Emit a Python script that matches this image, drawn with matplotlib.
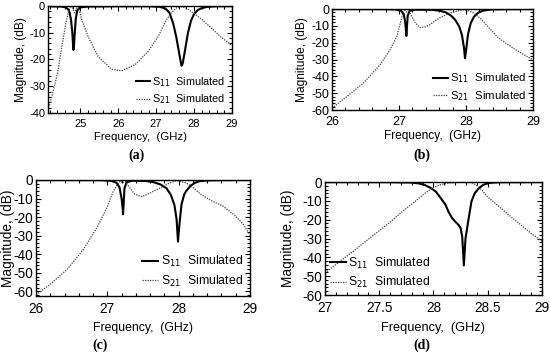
# S11 / S21 simulated responses of four filter designs, panels (a)-(d).
import matplotlib.pyplot as plt
from matplotlib.ticker import AutoMinorLocator, MultipleLocator

plt.rcParams['font.family'] = ['Liberation Sans', 'DejaVu Sans']
plt.rcParams['axes.unicode_minus'] = False

# ---- panel (a) ----
a_f11 = [24.15, 24.5, 24.62, 24.68, 24.72, 24.76, 24.79, 24.81, 24.82, 24.835,
         24.85, 24.88, 24.92, 25.0, 25.2, 26.0, 26.8, 27.1, 27.25, 27.35, 27.45,
         27.53, 27.6, 27.65, 27.67, 27.7, 27.75, 27.84, 27.92, 28.0, 28.1,
         28.2, 28.35, 28.6, 29.0]
a_s11 = [-0.1, -0.2, -0.5, -1.2, -2.5, -5.5, -10.0, -14.5, -16.4, -15.0,
         -11.0, -5.0, -1.6, -0.5, -0.2, -0.1, -0.1, -0.3, -1.0, -2.5, -6.5,
         -11.5, -17.0, -21.0, -22.3, -21.5, -17.5, -10.0, -5.5, -3.0, -1.5,
         -0.8, -0.3, -0.1, -0.05]
a_f21 = [24.15, 24.25, 24.4, 24.53, 24.62, 24.7, 24.76, 24.8, 24.85, 24.9,
         24.95, 25.04, 25.21, 25.47, 25.83, 26.09, 26.44, 26.79, 27.05, 27.27,
         27.4, 27.55, 27.68, 27.8, 28.0, 28.2, 28.46, 28.7, 28.98, 29.0]
a_s21 = [-38.9, -33.9, -25.2, -13.9, -6.5, -1.5, -0.3, -0.8, -2.5, -0.8,
         -0.4, -5.2, -11.5, -18.9, -23.7, -24.2, -22.0, -17.0, -11.5, -5.2,
         -2.5, -0.6, -0.3, -0.8, -2.8, -5.0, -8.3, -11.5, -14.6, -14.7]

# ---- panel (b) ----
b_f11 = [26.0, 26.8, 26.95, 27.03, 27.07, 27.09, 27.105, 27.11, 27.115, 27.13,
         27.16, 27.25, 27.5, 27.6, 27.7, 27.78, 27.84, 27.9, 27.94, 27.97,
         27.985, 28.0, 28.03, 28.07, 28.12, 28.18, 28.25, 28.35, 28.5, 29.0]
b_s11 = [-0.05, -0.1, -0.3, -1.0, -3.0, -7.0, -13.0, -16.0, -13.0, -4.0,
         -1.0, -0.4, -0.5, -1.0, -2.0, -4.0, -6.5, -10.5, -15.5, -23.0,
         -29.2, -25.0, -15.0, -8.5, -4.5, -2.3, -1.0, -0.4, -0.15, -0.05]
b_f21 = [26.0, 26.22, 26.47, 26.72, 26.87, 26.97, 27.02, 27.06, 27.09, 27.11,
         27.14, 27.18, 27.24, 27.31, 27.38, 27.46, 27.6, 27.75, 27.9, 27.985,
         28.1, 28.21, 28.33, 28.46, 28.6, 28.71, 28.85, 29.0]
b_s21 = [-59.0, -52.0, -44.0, -33.0, -24.0, -16.0, -8.3, -2.4, -0.8, -1.8,
         -1.2, -3.5, -8.0, -11.0, -10.8, -9.3, -5.4, -2.5, -0.9, -0.4,
         -2.0, -5.4, -10.5, -16.3, -20.5, -23.3, -26.8, -30.2]

# ---- panel (c) ----
c_f11 = [26.0, 26.9, 27.05, 27.13, 27.17, 27.2, 27.215, 27.22, 27.225, 27.24,
         27.27, 27.35, 27.55, 27.65, 27.75, 27.83, 27.89, 27.94, 27.97, 27.99,
         28.01, 28.04, 28.08, 28.11, 28.17, 28.23, 28.3, 28.4, 28.6, 29.0]
c_s11 = [-0.05, -0.1, -0.4, -1.5, -4.0, -10.0, -15.5, -18.5, -15.0, -4.5,
         -1.2, -0.4, -0.6, -1.2, -2.5, -4.5, -8.0, -13.5, -21.0, -33.2,
         -24.0, -13.0, -7.5, -5.7, -3.0, -1.5, -0.6, -0.25, -0.1, -0.05]
c_f21 = [26.0, 26.19, 26.43, 26.66, 26.85, 26.99, 27.08, 27.15, 27.18, 27.21,
         27.25, 27.3, 27.38, 27.48, 27.59, 27.73, 27.85, 27.97, 28.1, 28.2,
         28.3, 28.45, 28.63, 28.8, 28.91, 29.0]
c_s21 = [-61.8, -56.5, -48.4, -37.6, -26.0, -15.2, -6.3, -1.8, -0.5, -1.6,
         -0.8, -3.5, -7.5, -9.0, -7.2, -4.5, -2.0, -0.3, -1.5, -4.0,
         -7.5, -11.0, -14.3, -19.5, -24.2, -29.6]

# ---- panel (d) ----
d_f11 = [27.0, 27.6, 27.8, 27.86, 27.92, 27.97, 28.02, 28.06, 28.11, 28.14,
         28.17, 28.2, 28.23, 28.25, 28.265, 28.28, 28.295, 28.32, 28.35, 28.38,
         28.42, 28.46, 28.51, 28.6, 29.0]
d_s11 = [-0.05, -0.1, -0.3, -0.7, -1.6, -3.0, -5.0, -8.0, -12.0, -16.0,
         -19.0, -21.0, -22.7, -24.5, -29.0, -44.3, -30.0, -20.9, -10.3, -6.0,
         -3.2, -1.5, -0.5, -0.15, -0.05]
d_f21 = [27.0, 27.14, 27.28, 27.44, 27.59, 27.71, 27.83, 27.92, 27.99, 28.06,
         28.14, 28.25, 28.35, 28.39, 28.45, 28.5, 28.6, 28.69, 28.8, 28.9, 29.0]
d_s21 = [-48.3, -42.0, -35.9, -28.5, -21.8, -15.8, -10.3, -6.0, -3.2, -1.5,
         -0.5, -0.2, -0.3, -1.5, -4.5, -8.0, -12.8, -17.3, -22.5, -27.3, -31.5]

panels = [
    ('(a)', a_f11, a_s11, a_f21, a_s21, (24.15, 29), (-40, 0), [25, 26, 27, 28, 29], 'lower right'),
    ('(b)', b_f11, b_s11, b_f21, b_s21, (26, 29), (-60, 0), [26, 27, 28, 29], 'lower right'),
    ('(c)', c_f11, c_s11, c_f21, c_s21, (26, 29), (-62.5, 0), [26, 27, 28, 29], 'lower right'),
    ('(d)', d_f11, d_s11, d_f21, d_s21, (27, 29), (-60, 0), [27, 27.5, 28, 28.5, 29], 'lower left'),
]
# axes boxes in figure fractions (left, bottom, width, height)
boxes = [[0.0873, 0.6817, 0.3345, 0.3014],
         [0.6036, 0.6901, 0.3655, 0.2845],
         [0.0655, 0.1662, 0.3891, 0.3268],
         [0.5909, 0.1690, 0.3945, 0.3183]]
tag_pos = [(0.249, 0.563), (0.767, 0.563), (0.182, 0.028), (0.767, 0.028)]
# font sizes: ticks, xlabel, ylabel, legend
sizes = [(8.0, 8.2, 8.6, 7.8), (9.0, 8.6, 8.6, 8.2), (9.8, 8.8, 9.8, 8.8), (9.8, 9.2, 9.8, 8.8)]
ylab_x = [-0.114, -0.119, -0.100, -0.138]
xlab_y = [-0.175, -0.195, -0.22, -0.24]

fig = plt.figure(figsize=(5.5, 3.55), dpi=100)

for i, (tag, f11, s11, f21, s21, xl, yl, xt, loc) in enumerate(panels):
    fs_t, fs_x, fs_y, fs_l = sizes[i]
    ax = fig.add_axes(boxes[i])
    ax.plot(f11, s11, color='black', lw=1.5, label='S$_{11}$  Simulated')
    ax.plot(f21, s21, color='#444444', lw=0.9, ls=(0, (1, 1)), label='S$_{21}$  Simulated')
    ax.set_xlim(*xl)
    ax.set_ylim(*yl)
    ax.set_xticks(xt)
    ax.set_xticklabels([('%g' % v) for v in xt])
    ax.yaxis.set_major_locator(MultipleLocator(10))
    ax.xaxis.set_minor_locator(AutoMinorLocator(5))
    ax.yaxis.set_minor_locator(AutoMinorLocator(5))
    ax.tick_params(which='both', direction='in', top=True, right=True, width=0.8,
                   labelsize=fs_t)
    ax.tick_params(axis='x', which='major', length=3.5, pad=4.5)
    ax.tick_params(axis='y', which='major', length=3.5, pad=2)
    ax.tick_params(which='minor', length=2)
    for s in ax.spines.values():
        s.set_linewidth(1.0)
    ax.set_xlabel('Frequency,  (GHz)', fontsize=fs_x, va='top')
    ax.set_ylabel('Magnitude, (dB)', fontsize=fs_y)
    ax.xaxis.set_label_coords(0.5, xlab_y[i])
    ax.yaxis.set_label_coords(ylab_x[i], 0.5)
    ax.legend(loc=loc, frameon=False, handlelength=1.3, handletextpad=0.2,
              labelspacing=0.35, borderaxespad=0.2 if loc == 'lower right' else 0.0,
              fontsize=fs_l)
    fig.text(tag_pos[i][0], tag_pos[i][1], tag, ha='center', va='center', fontsize=10,
             fontweight='bold', family=['Liberation Serif', 'DejaVu Serif'])

fig.savefig('out.png', dpi=100)
